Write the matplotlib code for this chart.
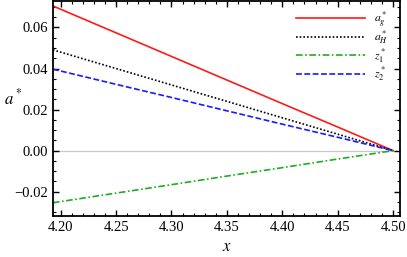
import matplotlib
matplotlib.use('Agg')
import matplotlib.pyplot as plt
from matplotlib.ticker import MultipleLocator
import numpy as np

plt.rcParams['font.family'] = ['Liberation Serif', 'DejaVu Serif']
plt.rcParams['mathtext.fontset'] = 'stix'

x = [4.193, 4.25, 4.30, 4.35, 4.40, 4.45, 4.50]
a_g = [0.0705, 0.0574, 0.0459, 0.0344, 0.0229, 0.0115, 0.0]
a_H = [0.0491, 0.0400, 0.0320, 0.0240, 0.0160, 0.0080, 0.0]
z_1 = [-0.0254, -0.0207, -0.0166, -0.0124, -0.0083, -0.0041, 0.0]
z_2 = [0.0397, 0.0323, 0.0259, 0.0194, 0.0129, 0.0065, 0.0]

fig = plt.figure(figsize=(4.07, 2.57), dpi=100)
ax = fig.add_axes([0.130, 0.160, 0.853, 0.836])

ax.axhline(0, color='#c8c8c8', linewidth=0.9, zorder=1)
ax.plot(x, a_g, color='#ff1a1a', linewidth=1.2, label=r'$a_g^*$')
ax.plot(x, a_H, color='k', linewidth=1.2, linestyle=(0, (1, 1.2)), label=r'$a_H^*$')
ax.plot(x, z_1, color='#1fad1f', linewidth=1.2, linestyle=(0, (4, 1.5, 1, 1.5)), label=r'$z_1^*$')
ax.plot(x, z_2, color='#1a1aff', linewidth=1.2, linestyle=(0, (3.5, 1.5)), label=r'$z_2^*$')

ax.set_xlim(4.193, 4.5063)
ax.set_ylim(-0.0318, 0.0729)

ax.xaxis.set_major_locator(MultipleLocator(0.05))
ax.xaxis.set_minor_locator(MultipleLocator(0.01))
ax.yaxis.set_major_locator(MultipleLocator(0.02))
ax.yaxis.set_minor_locator(MultipleLocator(0.005))
ax.xaxis.set_major_formatter(lambda v, p: '{:.2f}'.format(v))
ax.yaxis.set_major_formatter(lambda v, p: '{:.2f}'.format(v).replace('-', '\u2212'))

ax.tick_params(which='both', direction='in', top=True, right=True, labelsize=10.5, color='k')
ax.tick_params(which='major', length=4, width=1)
ax.tick_params(which='minor', length=2, width=0.8)
for s in ax.spines.values():
    s.set_linewidth(1.3)

ax.set_xlabel(r'$x$', fontsize=12)
ax.set_ylabel(r'$a^*$', fontsize=12, rotation=0)
ax.yaxis.set_label_coords(-0.115, 0.50)

ax.legend(loc='upper right', frameon=False, fontsize=8.5, handlelength=5.8,
          labelspacing=0.0, borderaxespad=0.3, handletextpad=0.8,
          bbox_to_anchor=(0.99, 1.0))

fig.savefig('out.png', dpi=100)
